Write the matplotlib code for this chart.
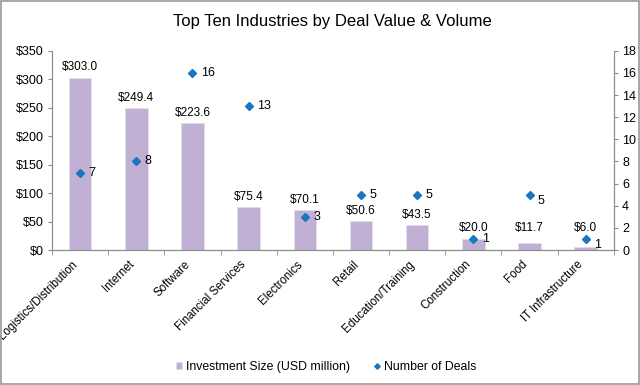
import numpy as np
import matplotlib.pyplot as plt
import matplotlib.transforms as mtransforms
from matplotlib.patches import Rectangle
from matplotlib.ticker import FuncFormatter, MultipleLocator

plt.rcParams['font.family'] = ['Liberation Sans', 'DejaVu Sans']

industries = ['Logistics/Distribution', 'Internet', 'Software', 'Financial Services',
              'Electronics', 'Retail', 'Education/Training', 'Construction', 'Food',
              'IT Infrastructure']
investment = [303.0, 249.4, 223.6, 75.4, 70.1, 50.6, 43.5, 20.0, 11.7, 6.0]
deals = [7, 8, 16, 13, 3, 5, 5, 1, 5, 1]

bar_color = '#c0b1d4'
dot_color = '#1a76c0'
axis_gray = '#8c8c8c'

fig = plt.figure(figsize=(6.4, 3.85), dpi=100)
ax = fig.add_axes([0.0813, 0.3506, 0.8777, 0.5174])
ax2 = ax.twinx()

x = np.arange(len(industries))
ax.bar(x, investment, width=0.4, color=bar_color, edgecolor='#e4dcec', linewidth=0.6,
       label='Investment Size (USD million)', zorder=2)
# labels of the short bars sit at a common minimum height, as in Excel
label_floor = 21
for xi, v in zip(x, investment):
    ax.annotate('${:.1f}'.format(v), (xi, max(v, label_floor)), xytext=(0, 3),
                textcoords='offset points', ha='center', va='bottom', fontsize=8.5)

ax2.plot(x, deals, linestyle='none', marker='D', markersize=4, color=dot_color,
         label='Number of Deals', zorder=3)
# Excel pushes a few labels down a bit where they would collide
drop = {'Food': -4.5, 'IT Infrastructure': -4}
for xi, d, name in zip(x, deals, industries):
    ax2.annotate(str(d), (xi, d), xytext=(6, drop.get(name, 0)), textcoords='offset points',
                 ha='left', va='center', fontsize=9)

ax.set_xlim(-0.5, len(industries) - 0.5)
ax.set_ylim(0, 350)
ax2.set_ylim(0, 18)
ax.yaxis.set_major_locator(MultipleLocator(50))
ax2.yaxis.set_major_locator(MultipleLocator(2))
ax.yaxis.set_major_formatter(FuncFormatter(lambda v, p: '${:.0f}'.format(v)))

ax.set_xticks(x)
ax.set_xticklabels(industries, rotation=45, ha='right', fontsize=8.3)
shift = mtransforms.ScaledTranslation(2 / 100, 0, fig.dpi_scale_trans)
for lab in ax.get_xticklabels():
    lab.set_transform(lab.get_transform() + shift)
ax.tick_params(axis='x', which='major', length=0, pad=6)
ax.set_xticks(np.arange(-0.5, len(industries)), minor=True)
ax.tick_params(axis='x', which='minor', length=3.5, color=axis_gray)
ax.tick_params(axis='y', labelsize=9, length=3, color=axis_gray, pad=3)
ax2.tick_params(axis='y', labelsize=9, length=3, color=axis_gray, pad=3)

for a in (ax, ax2):
    a.spines['top'].set_visible(False)
    for s in ('left', 'right', 'bottom'):
        a.spines[s].set_color(axis_gray)

fig.text(0.52, 0.943, 'Top Ten Industries by Deal Value & Volume', ha='center', va='center',
         fontsize=12)

h1, l1 = ax.get_legend_handles_labels()
h2, l2 = ax2.get_legend_handles_labels()
fig.legend(h1 + h2, l1 + l2, loc='center', bbox_to_anchor=(0.51, 0.047), ncol=2,
           frameon=False, fontsize=8.8, handlelength=0.5, handleheight=0.5,
           handletextpad=0.3, columnspacing=2.0, markerscale=0.7, borderpad=0.2)

fig.patches.append(Rectangle((0.001, 0.002), 0.997, 0.995, transform=fig.transFigure,
                             fill=False, edgecolor='#999999', linewidth=1.2))

fig.savefig('out.png', dpi=100)
